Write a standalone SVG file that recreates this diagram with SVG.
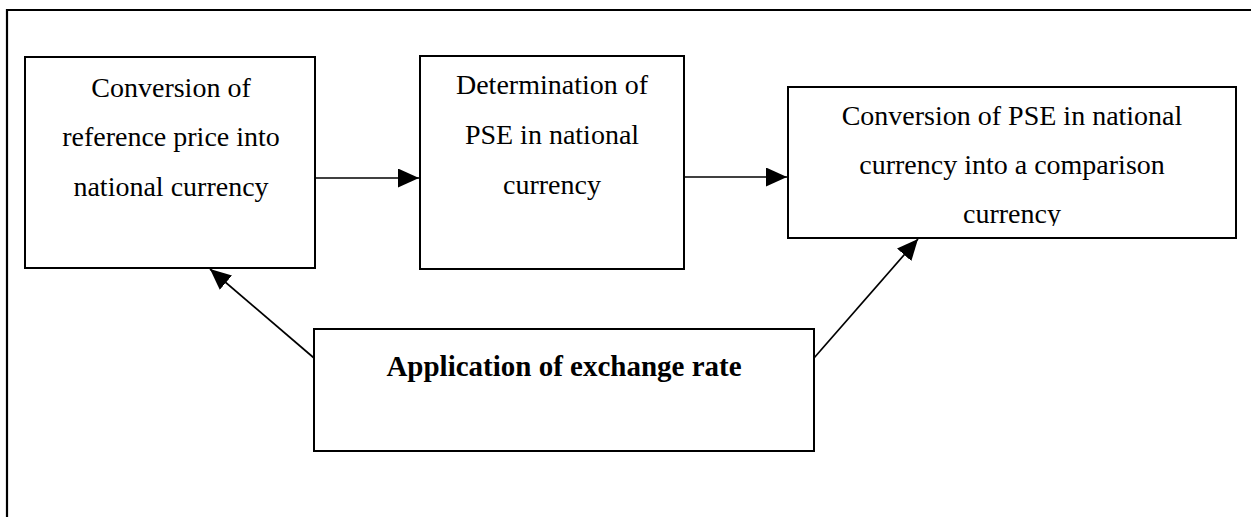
<svg xmlns="http://www.w3.org/2000/svg" width="1251" height="517" viewBox="0 0 1251 517">
<style>
.box{fill:#fff;stroke:#000;stroke-width:2}
.t{font-family:"Liberation Serif","Times New Roman",serif;font-size:28px;fill:#000;text-anchor:middle}
.b{font-weight:bold;font-size:29px}
.c{stroke:#000;stroke-width:1.7;fill:none;marker-end:url(#ah)}
</style>
<defs>
<marker id="ah" markerUnits="userSpaceOnUse" markerWidth="21" markerHeight="19" refX="21" refY="9.5" orient="auto">
<path d="M0,0 L21,9.5 L0,19 Z" fill="#000"/>
</marker>
<clipPath id="clip3"><rect x="788" y="87" width="448" height="139"/></clipPath>
</defs>
<rect width="1251" height="517" fill="#fff"/>
<path d="M7,517 L7,10 L1251,10" fill="none" stroke="#000" stroke-width="2.2"/>
<g id="connectors">
<line class="c" x1="315" y1="178" x2="419" y2="178"/>
<line class="c" x1="684" y1="177" x2="787" y2="177"/>
<line class="c" x1="314" y1="358" x2="210" y2="269"/>
<line class="c" x1="814" y1="358" x2="918" y2="239"/>
</g>
<g id="node1">
<rect class="box" x="25" y="57" width="290" height="211"/>
<text class="t" x="171" y="97">Conversion of</text>
<text class="t" x="171" y="146">reference price into</text>
<text class="t" x="171" y="196">national currency</text>
</g>
<g id="node2">
<rect class="box" x="420" y="56" width="264" height="213"/>
<text class="t" x="552" y="94">Determination of</text>
<text class="t" x="552" y="144">PSE in national</text>
<text class="t" x="552" y="194">currency</text>
</g>
<g id="node3">
<rect class="box" x="788" y="87" width="448" height="151"/>
<g clip-path="url(#clip3)">
<text class="t" x="1012" y="125">Conversion of PSE in national</text>
<text class="t" x="1012" y="174">currency into a comparison</text>
<text class="t" x="1012" y="223">currency</text>
</g>
</g>
<g id="node4">
<rect class="box" x="314" y="329" width="500" height="122"/>
<text class="t b" x="564" y="376">Application of exchange rate</text>
</g>
</svg>
